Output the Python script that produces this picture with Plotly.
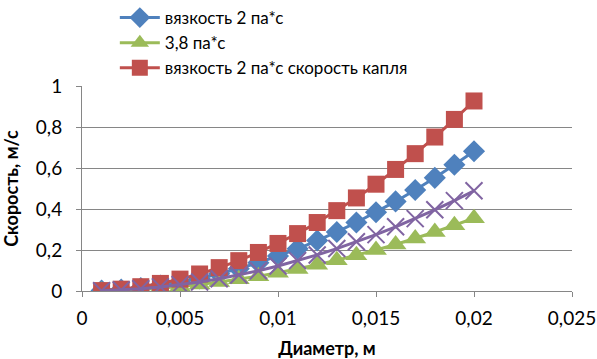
import plotly.graph_objects as go

diameter = [0.001, 0.002, 0.003, 0.004, 0.005, 0.006, 0.007, 0.008, 0.009, 0.010,
            0.011, 0.012, 0.013, 0.014, 0.015, 0.016, 0.017, 0.018, 0.019, 0.020]
visc2 = [0.002, 0.007, 0.015, 0.027, 0.043, 0.061, 0.084, 0.109, 0.138, 0.171,
         0.206, 0.246, 0.288, 0.334, 0.384, 0.437, 0.493, 0.552, 0.616, 0.682]
visc38 = [0.001, 0.004, 0.008, 0.014, 0.022, 0.032, 0.044, 0.057, 0.072, 0.089,
          0.107, 0.128, 0.150, 0.174, 0.200, 0.227, 0.256, 0.288, 0.321, 0.355]
visc2_drop = [0.002, 0.009, 0.021, 0.037, 0.058, 0.083, 0.114, 0.148, 0.188, 0.232,
              0.280, 0.334, 0.392, 0.454, 0.521, 0.593, 0.670, 0.751, 0.837, 0.927]
series4 = [0.001, 0.005, 0.011, 0.020, 0.031, 0.044, 0.060, 0.078, 0.099, 0.122,
           0.148, 0.176, 0.207, 0.240, 0.275, 0.313, 0.353, 0.396, 0.441, 0.489]

names = ["вязкость 2 па*с", "3,8 па*с", "вязкость 2 па*с скорость капля"]
x_ticks = [0, 0.005, 0.01, 0.015, 0.02, 0.025]
x_labels = ["0", "0,005", "0,01", "0,015", "0,02", "0,025"]
y_ticks = [0, 0.2, 0.4, 0.6, 0.8, 1.0]
y_labels = ["0", "0,2", "0,4", "0,6", "0,8", "1"]

fig = go.Figure()
fig.add_trace(go.Scatter(x=diameter, y=visc2, name=names[0], mode="lines+markers",
                         line=dict(color="#4F81BD", width=3),
                         marker=dict(symbol="diamond", size=17, color="#4F81BD")))
fig.add_trace(go.Scatter(x=diameter, y=visc38, name=names[1], mode="lines+markers",
                         line=dict(color="#9BBB59", width=3),
                         marker=dict(symbol="triangle-up", size=19, color="#9BBB59")))
fig.add_trace(go.Scatter(x=diameter, y=visc2_drop, name=names[2], mode="lines+markers",
                         line=dict(color="#C0504D", width=3),
                         marker=dict(symbol="square", size=17, color="#C0504D")))
fig.add_trace(go.Scatter(x=diameter, y=series4, name="", mode="lines+markers",
                         showlegend=False,
                         line=dict(color="#8064A2", width=3),
                         marker=dict(symbol="x-thin", size=17,
                                     line=dict(color="#8064A2", width=2))))

fig.update_layout(
    width=597, height=359,
    margin=dict(l=82, r=25, t=86, b=68, autoexpand=False),
    paper_bgcolor="white", plot_bgcolor="white",
    font=dict(family="Lato, Open Sans, sans-serif", color="#000000"),
    legend=dict(x=0.067, xref="paper", y=1.0, yref="container", yanchor="top",
                font=dict(size=17), itemwidth=40, tracegroupgap=0,
                bgcolor="rgba(0,0,0,0)"),
    xaxis=dict(range=[0, 0.025], tickvals=x_ticks, ticktext=x_labels,
               showgrid=False, zeroline=False, showline=True, linecolor="#868686",
               ticks="outside", ticklen=5, tickcolor="#868686",
               tickfont=dict(size=19), ticklabelstandoff=5,
               title=dict(text="<b>Диаметр, м</b>", font=dict(size=18), standoff=14)),
    yaxis=dict(range=[0, 1.0], tickvals=y_ticks, ticktext=y_labels,
               showgrid=True, gridcolor="#868686", gridwidth=1, zeroline=False,
               showline=True, linecolor="#868686",
               ticks="outside", ticklen=5, tickcolor="#868686",
               tickfont=dict(size=19), ticklabelstandoff=10,
               title=dict(text="<b>Скорость, м/с</b>", font=dict(size=18), standoff=12)),
)

fig.write_html("out.html")
